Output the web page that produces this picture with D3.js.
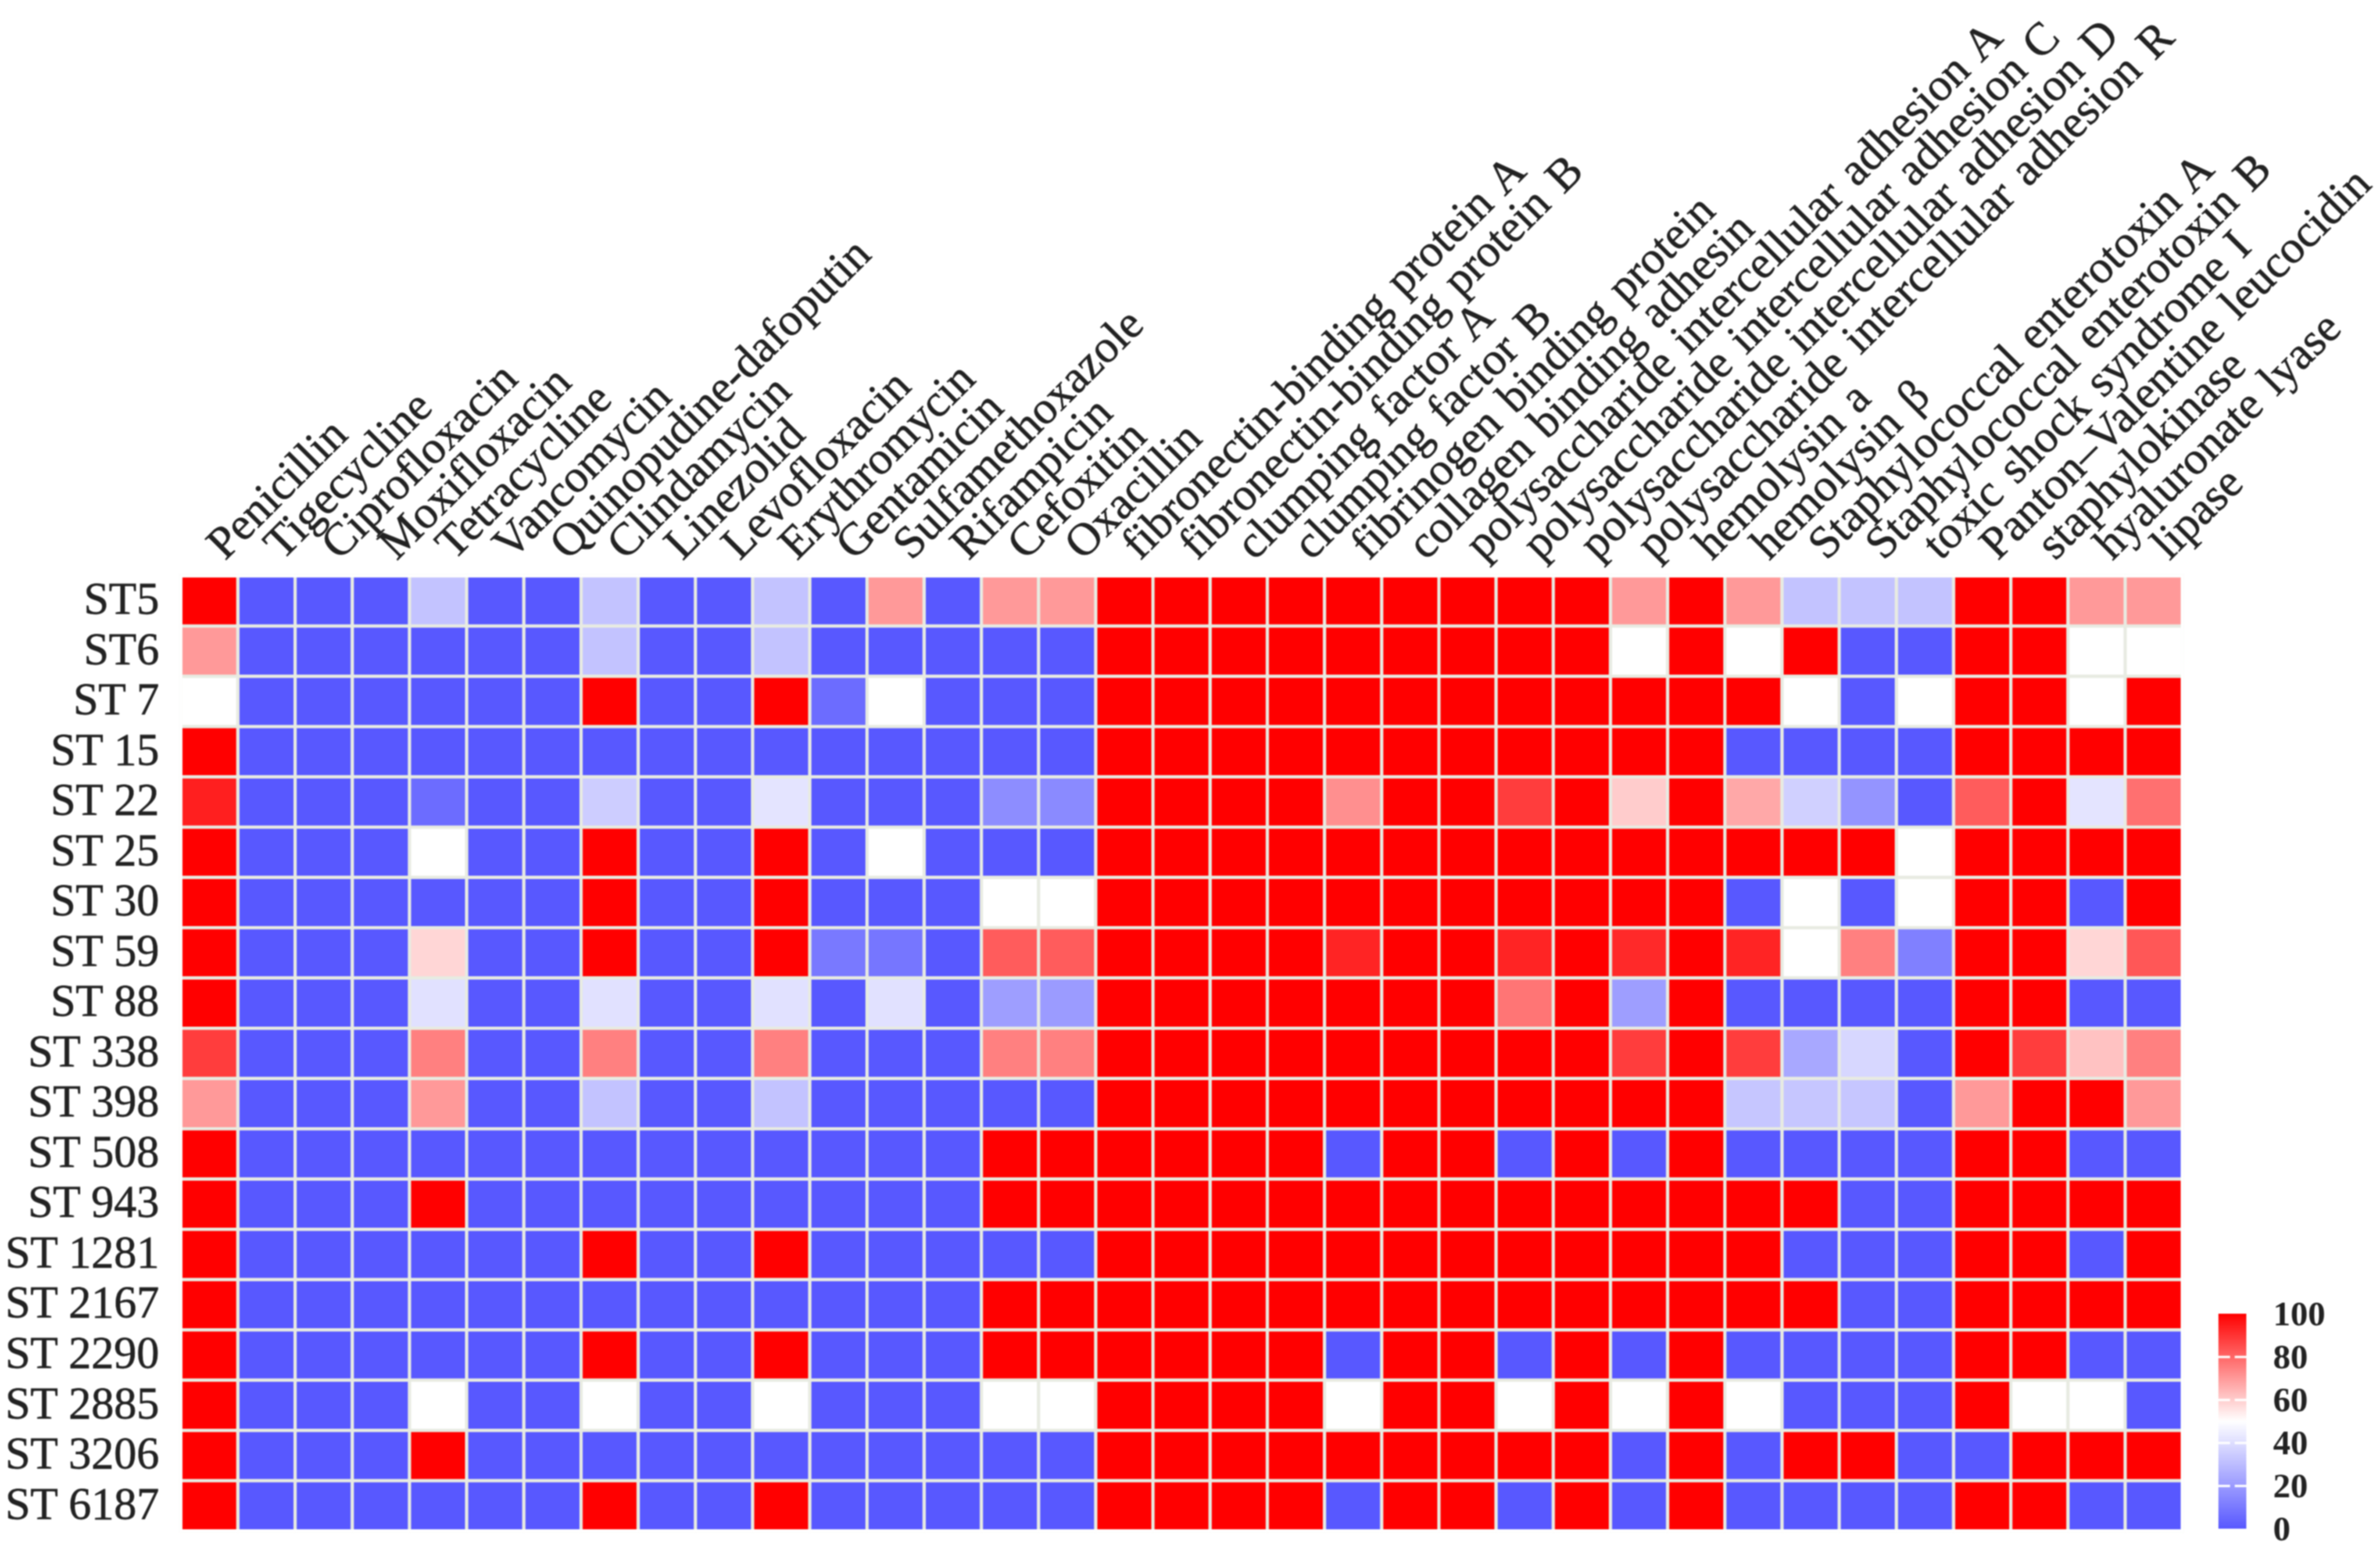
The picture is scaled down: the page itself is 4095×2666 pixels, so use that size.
<!DOCTYPE html>
<html>
<head>
<meta charset="utf-8">
<title>Heatmap of ST types</title>
<script src="https://cdn.jsdelivr.net/npm/d3@7"></script>
<style>
    html, body { margin: 0; padding: 0; background: #fff; }
    svg { display: block; filter: blur(1.2px); }
    text { font-family: "Liberation Serif", serif; fill: #222; }
</style>
</head>
<body>
<div id="chart"></div>
<script>
// row labels
const sequenceTypes = ['ST5', 'ST6', 'ST 7', 'ST 15', 'ST 22', 'ST 25', 'ST 30', 'ST 59', 'ST 88', 'ST 338',
    'ST 398', 'ST 508', 'ST 943', 'ST 1281', 'ST 2167', 'ST 2290', 'ST 2885', 'ST 3206', 'ST 6187'];

// column labels: antibiotics first, then virulence genes
const features = ['Penicillin', 'Tigecycline', 'Ciprofloxacin', 'Moxifloxacin', 'Tetracycline', 'Vancomycin',
    'Quinopudine-dafoputin', 'Clindamycin', 'Linezolid', 'Levofloxacin', 'Erythromycin', 'Gentamicin',
    'Sulfamethoxazole', 'Rifampicin', 'Cefoxitin', 'Oxacillin',
    'fibronectin-binding protein A', 'fibronectin-binding protein B', 'clumping factor A', 'clumping factor B',
    'fibrinogen binding protein', 'collagen binding adhesin', 'polysaccharide intercellular adhesion A',
    'polysaccharide intercellular adhesion C', 'polysaccharide intercellular adhesion D',
    'polysaccharide intercellular adhesion R', 'hemolysin a', 'hemolysin β', 'Staphylococcal enterotoxin A',
    'Staphylococcal enterotoxin B', 'toxic shock syndrome I', 'Panton–Valentine leucocidin', 'staphylokinase',
    'hyaluronate lyase', 'lipase'];

// percentages, one row per sequence type
const values = [
    [100,0,0,0,32,0,0,32,0,0,32,0,70,0,70,70, 100,100,100,100,100,100,100,100,100,70,100,70,32,32,32,100,100,70,70],
    [70,0,0,0,0,0,0,32,0,0,32,0,0,0,0,0, 100,100,100,100,100,100,100,100,100,50,100,50,100,0,0,100,100,50,50],
    [50,0,0,0,0,0,0,100,0,0,100,6,50,0,0,0, 100,100,100,100,100,100,100,100,100,100,100,100,50,0,50,100,100,50,100],
    [100,0,0,0,0,0,0,0,0,0,0,0,0,0,0,0, 100,100,100,100,100,100,100,100,100,100,100,0,0,0,0,100,100,100,100],
    [94,0,0,0,6,0,0,35,0,0,42,0,0,0,16,15, 100,100,100,100,72,100,100,88,100,60,100,67,36,18,0,82,100,42,78],
    [100,0,0,0,50,0,0,100,0,0,100,0,50,0,0,0, 100,100,100,100,100,100,100,100,100,100,100,100,100,100,50,100,100,100,100],
    [100,0,0,0,0,0,0,100,0,0,100,0,0,0,50,50, 100,100,100,100,100,100,100,100,100,100,100,0,50,0,50,100,100,0,100],
    [100,0,0,0,58,0,0,100,0,0,100,10,9,0,82,82, 100,100,100,100,93,100,100,93,100,92,100,93,50,75,12,100,100,58,83],
    [100,0,0,0,41,0,0,41,0,0,41,0,41,0,21,20, 100,100,100,100,100,100,100,77,100,21,100,0,0,0,0,100,100,0,0],
    [88,0,0,0,75,0,0,75,0,0,75,0,0,0,75,75, 100,100,100,100,100,100,100,100,100,88,100,88,24,38,0,100,88,62,75],
    [70,0,0,0,70,0,0,32,0,0,32,0,0,0,0,0, 100,100,100,100,100,100,100,100,100,100,100,33,33,33,0,70,100,100,70],
    [100,0,0,0,0,0,0,0,0,0,0,0,0,0,100,100, 100,100,100,100,0,100,100,0,100,0,100,0,0,0,0,100,100,0,0],
    [100,0,0,0,100,0,0,0,0,0,0,0,0,0,100,100, 100,100,100,100,100,100,100,100,100,100,100,100,100,0,0,100,100,100,100],
    [100,0,0,0,0,0,0,100,0,0,100,0,0,0,0,0, 100,100,100,100,100,100,100,100,100,100,100,100,0,0,0,100,100,0,100],
    [100,0,0,0,0,0,0,0,0,0,0,0,0,0,100,100, 100,100,100,100,100,100,100,100,100,100,100,100,100,0,0,100,100,100,100],
    [100,0,0,0,0,0,0,100,0,0,100,0,0,0,100,100, 100,100,100,100,0,100,100,0,100,0,100,0,0,0,0,100,100,0,0],
    [100,0,0,0,50,0,0,50,0,0,50,0,0,0,50,50, 100,100,100,100,50,100,100,50,100,50,100,50,0,0,0,100,50,50,0],
    [100,0,0,0,100,0,0,0,0,0,0,0,0,0,0,0, 100,100,100,100,100,100,100,100,100,0,100,0,100,100,0,0,100,100,100],
    [100,0,0,0,0,0,0,100,0,0,100,0,0,0,0,0, 100,100,100,100,0,100,100,0,100,0,100,0,0,0,0,100,100,0,0]
];

const legendTicks = [0, 20, 40, 60, 80, 100];

const width = 4095;
const height = 2666;

const svg = d3.select('#chart').append('svg')
    .attr('width', width)
    .attr('height', height);

const x = d3.scaleBand().domain(features).range([311, 3755]);
const y = d3.scaleBand().domain(sequenceTypes).range([991, 2635]);
const color = d3.scaleLinear().domain([0, 50, 100]).range(['#5858ff', '#ffffff', '#ff0000']);

// cells
const rows = svg.append('g').selectAll('g')
    .data(values)
    .join('g')
    .attr('transform', (d, i) => `translate(0,${y(sequenceTypes[i])})`);
rows.selectAll('rect')
    .data(d => d)
    .join('rect')
    .attr('x', (d, i) => x(features[i]))
    .attr('width', x.bandwidth())
    .attr('height', y.bandwidth())
    .attr('fill', d => color(d))
    .attr('stroke', '#e8ebe2')
    .attr('stroke-width', 5.5);

// white frame so the cell borders do not show round the outside
svg.append('rect')
    .attr('x', x.range()[0])
    .attr('y', y.range()[0])
    .attr('width', x.range()[1] - x.range()[0])
    .attr('height', y.range()[1] - y.range()[0])
    .attr('fill', 'none')
    .attr('stroke', '#fff')
    .attr('stroke-width', 5.5);

// row labels
const rowAxis = svg.append('g')
    .attr('transform', 'translate(313,0)')
    .call(d3.axisLeft(y).tickSize(0).tickPadding(39));
rowAxis.select('.domain').remove();
rowAxis.selectAll('text')
    .style('font-family', '"Liberation Serif", serif')
    .attr('font-size', 78)
    .attr('dy', '0.28em')
    .attr('stroke', '#222')
    .attr('stroke-width', 0.8);

// column labels
const colAxis = svg.append('g')
    .attr('transform', 'translate(0,990)')
    .call(d3.axisTop(x).tickSize(0).tickPadding(0));
colAxis.select('.domain').remove();
colAxis.selectAll('text')
    .style('font-family', '"Liberation Serif", serif')
    .style('word-spacing', '7px')
    .attr('font-size', 79)
    .attr('text-anchor', 'start')
    .attr('x', 0)
    .attr('y', 0)
    .attr('dy', 0)
    .attr('stroke', '#222')
    .attr('stroke-width', 0.8)
    .attr('transform', 'translate(27,-24) rotate(-45)');

// legend
const legendY = d3.scaleLinear().domain([0, 100]).range([2631, 2261]);
const gradient = svg.append('defs').append('linearGradient')
    .attr('id', 'legend-gradient')
    .attr('x1', 0).attr('y1', 1).attr('x2', 0).attr('y2', 0);
gradient.selectAll('stop')
    .data(legendTicks.concat([50]).sort(d3.ascending))
    .join('stop')
    .attr('offset', d => `${d}%`)
    .attr('stop-color', d => color(d));
svg.append('rect')
    .attr('x', 3817)
    .attr('y', legendY(100))
    .attr('width', 48)
    .attr('height', legendY(0) - legendY(100))
    .attr('fill', 'url(#legend-gradient)');
const legendAxis = svg.append('g')
    .attr('transform', 'translate(3865,0)')
    .call(d3.axisRight(legendY).tickValues(legendTicks).tickSize(-48).tickPadding(46));
legendAxis.select('.domain').remove();
legendAxis.selectAll('line')
    .attr('stroke', d => (d === 0 || d === 100) ? 'none' : '#fff')
    .attr('stroke-width', 4)
    .attr('stroke-dasharray', '20 8 20');
legendAxis.selectAll('text')
    .style('font-family', '"Liberation Serif", serif')
    .attr('font-size', 60)
    .attr('font-weight', 'bold');
</script>
</body>
</html>
